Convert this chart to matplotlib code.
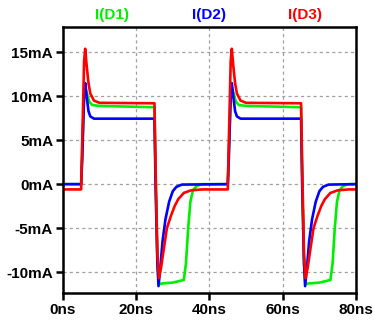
import matplotlib.pyplot as plt
from matplotlib.ticker import FuncFormatter

# values (time in ns, current in mA)
t_d1 = [0, 5.0, 5.3, 5.8, 6.1, 6.6, 7.2, 8.0, 10.0, 25.0, 25.3, 25.8, 26.2, 27.0, 30.0, 33.0,
        33.6, 34.2, 34.8, 35.5, 36.5, 38.0,
        45.0, 45.3, 45.8, 46.1, 46.6, 47.2, 48.0, 50.0, 65.0, 65.3, 65.8, 66.2, 67.0, 70.0, 73.0,
        73.6, 74.2, 74.8, 75.5, 76.5, 78.0, 80.0]
i_d1 = [0, 0, 4, 10, 11.0, 10.3, 9.4, 9.0, 8.9, 8.75, 1, -9, -11.4, -11.3, -11.2, -10.9,
        -9, -5, -2, -0.7, -0.2, 0,
        0, 4, 10, 11.0, 10.3, 9.4, 9.0, 8.9, 8.75, 1, -9, -11.4, -11.3, -11.2, -10.9,
        -9, -5, -2, -0.7, -0.2, 0, 0]

t_d2 = [0, 5.0, 5.3, 5.8, 6.1, 6.5, 7.0, 7.5, 8.5, 25.0, 25.3, 25.8, 26.1, 26.6, 27.2, 28.0,
        29.0, 30.0, 31.0, 32.5,
        45.0, 45.3, 45.8, 46.1, 46.5, 47.0, 47.5, 48.5, 65.0, 65.3, 65.8, 66.1, 66.6, 67.2, 68.0,
        69.0, 70.0, 71.0, 72.5, 80.0]
i_d2 = [0, 0, 3, 10, 11.5, 10, 8.3, 7.7, 7.45, 7.45, 0, -9, -11.6, -9.5, -6.5, -4.0,
        -2.0, -0.8, -0.3, -0.05,
        0, 3, 10, 11.5, 10, 8.3, 7.7, 7.45, 7.45, 0, -9, -11.6, -9.5, -6.5, -4.0,
        -2.0, -0.8, -0.3, -0.05, 0]

t_d3 = [0, 5.0, 5.3, 5.8, 6.1, 6.5, 7.0, 7.5, 8.5, 10.0, 25.0, 25.3, 25.8, 26.2, 26.8, 27.5,
        28.4, 29.5, 30.5, 31.5, 33.0, 35.0, 38.0,
        45.0, 45.3, 45.8, 46.1, 46.5, 47.0, 47.5, 48.5, 50.0, 65.0, 65.3, 65.8, 66.2, 66.8, 67.5,
        68.4, 69.5, 70.5, 71.5, 73.0, 75.0, 78.0, 80.0]
i_d3 = [-0.6, -0.6, 5, 14, 15.4, 13.5, 11.5, 10.3, 9.5, 9.25, 9.2, 2, -8, -10.7, -9.5, -7.5,
        -5.0, -3.6, -2.5, -1.7, -1.0, -0.7, -0.6,
        -0.6, 5, 14, 15.4, 13.5, 11.5, 10.3, 9.5, 9.25, 9.2, 2, -8, -10.7, -9.5, -7.5,
        -5.0, -3.6, -2.5, -1.7, -1.0, -0.7, -0.6, -0.6]

x_ticks = [0, 20, 40, 60, 80]
y_ticks = [-10, -5, 0, 5, 10, 15]
names = ['I(D1)', 'I(D2)', 'I(D3)']
colors = ['#00ee00', '#0000ff', '#ff0000']

plt.rcParams['font.family'] = ['Liberation Sans', 'DejaVu Sans']

fig = plt.figure(figsize=(3.74, 3.21), dpi=100)
ax = fig.add_axes([0.168, 0.087, 0.784, 0.829])

ax.plot(t_d1, i_d1, color=colors[0], lw=1.9)
ax.plot(t_d2, i_d2, color=colors[1], lw=1.9)
ax.plot(t_d3, i_d3, color=colors[2], lw=1.9)

ax.set_xlim(0, 80)
ax.set_ylim(-12.39, 17.88)
ax.set_xticks(x_ticks)
ax.set_yticks(y_ticks)
ax.xaxis.set_major_formatter(FuncFormatter(lambda v, p: '%dns' % v))
ax.yaxis.set_major_formatter(FuncFormatter(lambda v, p: '%dmA' % v))
ax.tick_params(direction='out', length=5, width=1.8, pad=2, labelsize=11)
for lab in ax.get_xticklabels() + ax.get_yticklabels():
    lab.set_fontweight('bold')

ax.grid(True, color='#a0a0a0', linestyle=(0, (2.5, 2.5)), linewidth=0.9)
for s in ax.spines.values():
    s.set_linewidth(1.8)
    s.set_color('black')

for name, c, xp in zip(names, colors, [112, 209, 305]):
    fig.text(xp / 374, 1 - 15 / 321, name, color=c, fontsize=11, fontweight='bold',
             ha='center', va='center')

fig.savefig('out.png', dpi=100)
